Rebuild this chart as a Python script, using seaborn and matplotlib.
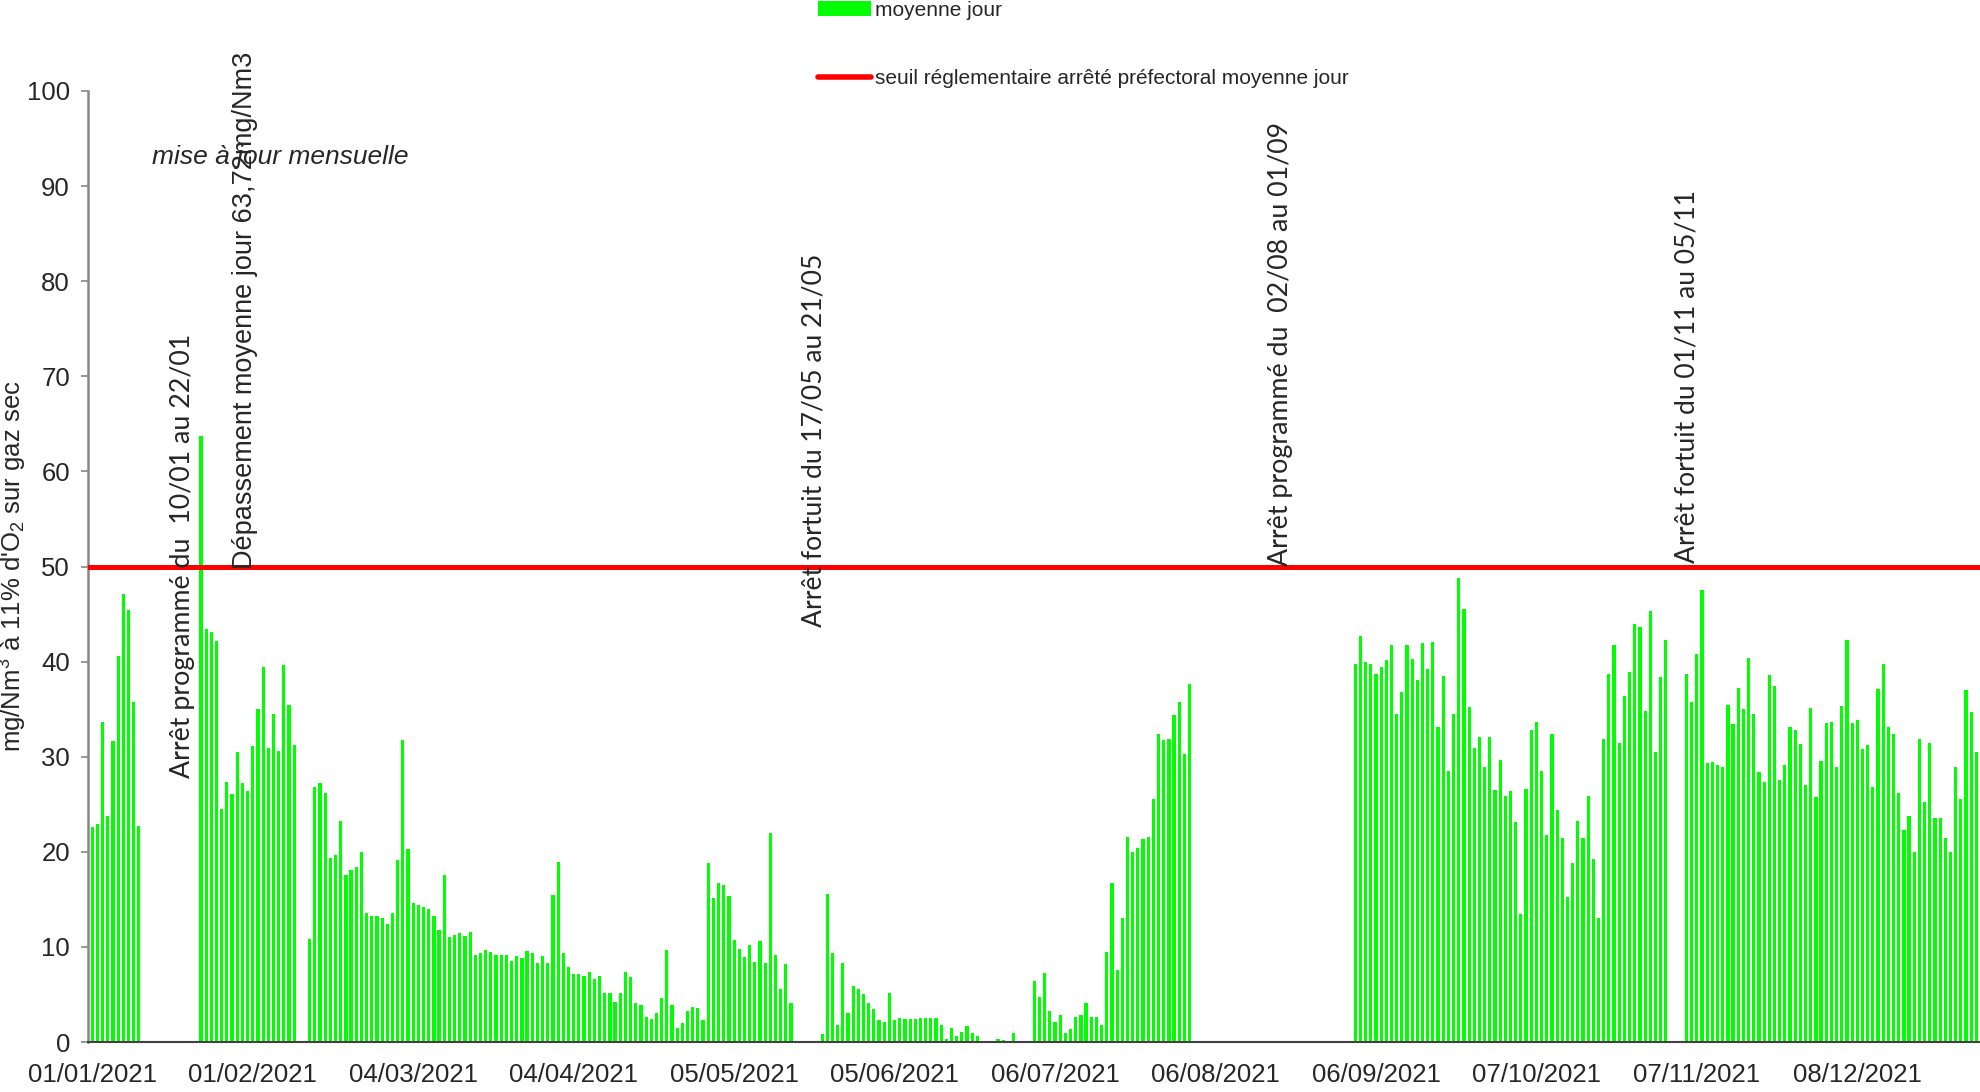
import numpy as np
import pandas as pd
import matplotlib
matplotlib.use("Agg")
import matplotlib.pyplot as plt
from matplotlib.patches import Patch
from matplotlib.lines import Line2D
import seaborn as sns

# ---------- daily averages (mg/Nm3 at 11% O2), one list per running period ----------
# day index 0 = 01/01/2021
jan_start = 0
jan_vals = [22.6, 22.9, 33.7, 23.8, 31.6, 40.6, 47.1, 45.4, 35.7, 22.7]

feb_start = 21   # restart 22/01
feb_vals = [63.7, 43.4, 43.1, 42.2, 24.5, 27.3, 26.1, 30.5, 27.2, 26.4,
            31.1, 35.0, 39.4, 30.9, 34.5, 30.6, 39.6, 35.4, 31.2]

spring_start = 42   # 12/02 -> 16/05
spring_vals = [10.8, 26.8, 27.2, 26.2, 19.4, 19.7, 23.2, 17.6, 18.1, 18.4,
               20.0, 13.6, 13.3, 13.2, 13.0, 12.4, 13.6, 19.1, 31.8, 20.3,
               14.6, 14.4, 14.2, 14.0, 13.2, 11.8, 17.6, 11.0, 11.3, 11.5,
               11.1, 11.6, 9.1, 9.4, 9.7, 9.5, 9.2, 9.2, 9.2, 8.5,
               9.0, 8.8, 9.6, 9.4, 8.3, 9.0, 8.3, 15.5, 18.9, 9.4,
               7.9, 7.1, 7.2, 6.9, 7.4, 6.6, 6.9, 5.2, 5.1, 4.2,
               5.1, 7.4, 6.8, 4.1, 3.9, 2.6, 2.4, 3.1, 4.6, 9.7,
               3.9, 1.5, 2.0, 3.3, 3.7, 3.6, 2.3, 18.8, 15.1, 16.7,
               16.5, 15.4, 10.7, 9.8, 8.9, 10.2, 8.4, 10.6, 8.3, 22.0,
               9.2, 5.6, 8.2, 4.1]

summer_start = 141   # 22/05 -> 01/08
summer_vals = [0.8, 15.6, 9.4, 1.8, 8.3, 3.0, 5.9, 5.6, 5.0, 4.1,
               3.5, 2.3, 2.1, 5.1, 2.3, 2.5, 2.4, 2.4, 2.4, 2.5,
               2.5, 2.5, 2.5, 1.8, 0.3, 1.5, 0.6, 1.1, 1.7, 0.9,
               0.6, 0.1, 0.1, 0.1, 0.3, 0.2, 0.1, 0.9, 0.1, 0.1,
               0.1, 6.4, 4.7, 7.3, 3.3, 2.1, 2.8, 0.9, 1.4, 2.6,
               2.8, 4.1, 2.6, 2.6, 1.8, 9.5, 16.7, 7.6, 13.0, 21.6,
               20.0, 20.4, 21.3, 21.6, 25.5, 32.4, 31.8, 31.9, 34.4, 35.8,
               30.3, 37.6]

autumn_start = 244   # 02/09 -> 01/11
autumn_vals = [39.7, 42.7, 40.0, 39.8, 38.7, 39.4, 40.2, 41.7, 34.5, 36.8,
               41.7, 40.3, 38.1, 42.0, 39.2, 42.1, 33.1, 38.5, 28.5, 34.5,
               48.8, 45.5, 35.2, 30.9, 32.1, 28.9, 32.1, 26.5, 29.7, 25.9,
               26.4, 23.1, 13.5, 26.6, 32.8, 33.7, 28.5, 21.8, 32.4, 24.4,
               21.5, 15.2, 18.8, 23.2, 21.4, 25.9, 19.2, 13.0, 31.9, 38.7,
               41.7, 31.4, 36.4, 38.9, 44.0, 43.6, 34.8, 45.3, 30.5, 38.4,
               42.3]

winter_start = 308   # 05/11 -> 31/12
winter_vals = [38.7, 35.7, 40.8, 47.5, 29.3, 29.4, 29.1, 28.9, 35.4, 33.4,
               37.2, 35.0, 40.4, 34.5, 28.4, 27.3, 38.6, 37.4, 27.5, 29.1,
               33.1, 32.8, 31.3, 27.0, 35.1, 25.8, 29.6, 33.5, 33.7, 28.9,
               35.3, 42.3, 33.5, 33.9, 30.8, 31.2, 26.8, 37.1, 39.7, 33.1,
               32.4, 26.2, 22.3, 23.8, 20.0, 31.9, 25.2, 31.4, 23.6, 23.6,
               21.4, 20.0, 28.9, 25.6, 37.0, 34.7, 30.5]

seuil = 50  # arrêté préfectoral, moyenne jour

tick_days = [0, 31, 62, 93, 124, 155, 186, 217, 248, 279, 310, 341]
tick_labels = ["01/01/2021", "01/02/2021", "04/03/2021", "04/04/2021",
               "05/05/2021", "05/06/2021", "06/07/2021", "06/08/2021",
               "06/09/2021", "07/10/2021", "07/11/2021", "08/12/2021"]

# ---------- assemble one row per day ----------
rows = []
for start, vals in [(jan_start, jan_vals), (feb_start, feb_vals),
                    (spring_start, spring_vals), (summer_start, summer_vals),
                    (autumn_start, autumn_vals), (winter_start, winter_vals)]:
    for k, v in enumerate(vals):
        rows.append((start + k, v))
df = pd.DataFrame(rows, columns=["day", "value"])

# ---------- plot ----------
sns.set_style("ticks")
plt.rcParams["font.family"] = ["Liberation Sans", "DejaVu Sans"]
plt.rcParams["mathtext.fontset"] = "custom"
plt.rcParams["mathtext.rm"] = "Liberation Sans"
plt.rcParams["mathtext.it"] = "Liberation Sans:italic"

GREEN = "#00ff00"
RED = "#ff0000"

fig = plt.figure(figsize=(19.8, 10.92), dpi=100)
ax = fig.add_axes([88 / 1980, 50 / 1092, 1892 / 1980, 951 / 1092])

sns.barplot(data=df, x="day", y="value", native_scale=True, width=0.62,
            color=GREEN, saturation=1, errorbar=None, linewidth=0, ax=ax)
ax.axhline(seuil, color=RED, lw=3.6, zorder=3)

ax.set_xlim(-0.83, 364.7)
ax.set_ylim(0, 100)
ax.set_yticks(range(0, 101, 10))
ax.set_xticks(tick_days)
ax.set_xticklabels(tick_labels)
ax.tick_params(axis="x", length=0, pad=15, labelsize=18.5)
ax.tick_params(axis="y", length=5, width=1.2, color="#868686", pad=8,
               labelsize=18.5, direction="out")
ax.set_xlabel("")
ax.set_ylabel("mg/Nm$^3$ à 11% d'O$_2$ sur gaz sec", fontsize=18.5)
ax.yaxis.set_label_coords(-0.031, 0.5)
sns.despine(ax=ax)
ax.spines["left"].set_color("#868686")
ax.spines["left"].set_linewidth(1.8)
ax.spines["bottom"].set_color("#404040")
ax.spines["bottom"].set_linewidth(1.5)

# annotations
ax.text(11.5, 93.1, "mise à jour mensuelle", fontsize=19, style="italic",
        ha="left", va="center")
ax.text(17.5, 27.8, "Arrêt programmé du  10/01 au 22/01", family="Lato",
        fontsize=19.3, rotation=90, ha="center", va="bottom")
ax.text(29.5, 49.7, "Dépassement moyenne jour 63,72mg/Nm3", fontsize=19.5,
        rotation=90, ha="center", va="bottom")
ax.text(139.4, 43.6, "Arrêt fortuit du 17/05 au 21/05", family="Lato",
        fontsize=19.1, rotation=90, ha="center", va="bottom")
ax.text(229.5, 50.1, "Arrêt programmé du  02/08 au 01/09", family="Lato",
        fontsize=19.3, rotation=90, ha="center", va="bottom")
ax.text(308.1, 50.4, "Arrêt fortuit du 01/11 au 05/11", family="Lato",
        fontsize=19.1, rotation=90, ha="center", va="bottom")

handles = [Patch(facecolor=GREEN, edgecolor="none"),
           Line2D([], [], color=RED, lw=4, solid_capstyle="round")]
fig.legend(handles, ["moyenne jour",
                     "seuil réglementaire arrêté préfectoral moyenne jour"],
           loc="upper left", bbox_to_anchor=(818 / 1980, 0.9994),
           frameon=False, fontsize=15, borderpad=0, borderaxespad=0,
           handlelength=2.55, handletextpad=0.2, labelspacing=2.39)

fig.savefig("out.png", dpi=100)
